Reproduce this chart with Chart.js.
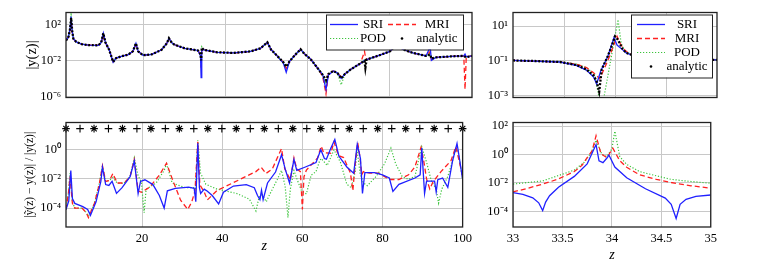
<!DOCTYPE html>
<html>
<head>
<meta charset="utf-8">
<script src="https://cdn.jsdelivr.net/npm/chart.js@4.4.1/dist/chart.umd.min.js"></script>
<style>
  html, body { margin: 0; padding: 0; background: #fff; }
  body { width: 759px; height: 269px; position: relative; overflow: hidden; }
  .panel { position: absolute; }
</style>
</head>
<body>
<div class="panel" style="left:22px;top:0;width:454px;height:110px"><canvas id="c1"></canvas></div>
<div class="panel" style="left:20px;top:110px;width:456px;height:159px"><canvas id="c2"></canvas></div>
<div class="panel" style="left:470px;top:0;width:251px;height:110px"><canvas id="c3"></canvas></div>
<div class="panel" style="left:470px;top:110px;width:251px;height:159px"><canvas id="c4"></canvas></div>
<script>
// --- data (values are log10 of the plotted quantity) ---

// top left: |y(z)| on z in [1, 100]
const tlZ = [1.0,1.6,2.0,2.25,2.5,2.8,3.5,4.8,6.5,8.9, 9.6,10.1,10.6,11.5,12.5,13.2,14.5,16.2,17.3,18.05,
  18.6,19.8,21.9,24.3,25.6,26.1,26.8,27.5,30.0,33.2, 33.8,33.95,34.1,34.6,37.9,41.9,46.0,48.4,50.1,51.0,
  52.5,54.0,54.7,55.5,57.0,58.2,59.2,60.6,62.6,63.6, 64.4,65.0,66.2,67.2,68.1,69.0,70.4,72.8,73.8,74.0,
  74.3,77.0,80.0,81.0,81.8,82.6,83.1,85.6,88.8,89.8, 90.1,91.2,95.0,98.0,98.3,98.6,100];
const tlAnalytic = [0.2,0.6,1.5,2.7,1.3,0.4,0.05,-0.2,-0.3,-0.33, 0.0,1.0,0.0,-0.8,-2.15,-1.75,-1.55,-1.35,-1.0,-0.1,
  -1.0,-1.43,-1.33,-0.83,-0.1,0.45,-0.05,-0.27,-0.67,-0.9, -1.3,-2.0,-0.6,-0.83,-1.1,-1.17,-1.0,-0.67,0.0,-0.8,
  -1.5,-2.2,-2.7,-2.1,-1.33,-0.77,-1.3,-1.83,-3.0,-3.6, -4.2,-3.5,-3.17,-3.4,-4.0,-3.5,-3.0,-2.33,-2.05,-2.83,
  -1.9,-1.5,-1.0,-0.5,0.4,-0.4,-0.77,-1.17,-1.5,-1.35, -1.8,-1.67,-1.55,-1.5,-1.6,-1.65,-1.5];
const tlSRI = [0.2,0.6,1.5,2.85,1.3,0.4,0.05,-0.2,-0.3,-0.33, 0.0,1.0,0.0,-0.8,-2.2,-1.75,-1.55,-1.35,-1.0,-0.1,
  -1.0,-1.43,-1.33,-0.83,-0.1,0.45,-0.05,-0.27,-0.67,-0.9, -1.5,-3.9,-0.8,-0.83,-1.1,-1.17,-1.0,-0.67,0.0,-0.8,
  -1.5,-2.3,-3.3,-2.1,-1.33,-0.77,-1.3,-1.83,-3.0,-3.6, -5.2,-3.6,-3.17,-3.4,-4.0,-3.5,-3.0,-2.33,-2.0,-1.95,
  -1.9,-1.5,-1.0,-0.5,0.4,-0.4,-0.77,-1.17,-1.5,-0.5, -2.0,-1.67,-1.55,-1.5,-1.3,-1.6,-1.5];
const tlMRI = [0.2,0.6,1.4,2.5,1.2,0.4,0.05,-0.2,-0.3,-0.33, 0.0,0.8,0.0,-0.8,-2.15,-1.75,-1.55,-1.35,-1.0,-0.3,
  -1.0,-1.43,-1.33,-0.83,-0.1,0.4,-0.05,-0.27,-0.67,-0.9, -1.4,-2.8,-0.7,-0.83,-1.1,-1.17,-1.0,-0.67,0.0,-0.8,
  -1.5,-2.2,-2.9,-2.1,-1.33,-0.77,-1.3,-1.83,-3.0,-3.8, -5.7,-3.4,-3.17,-3.4,-3.8,-3.5,-3.0,-2.33,-1.0,-1.6,
  -1.9,-1.5,-1.0,-0.5,0.4,-0.4,-0.77,-1.17,-1.5,-1.0, -1.9,-1.67,-1.55,-1.5,-5.2,-1.6,-1.5];
const tlPOD = [0.2,0.6,1.6,3.25,1.4,0.4,0.05,-0.2,-0.3,-0.33, 0.0,0.9,0.0,-0.8,-2.15,-1.75,-1.55,-1.35,-1.0,-0.2,
  -1.0,-1.43,-1.33,-0.83,-0.1,0.45,-0.05,-0.27,-0.67,-0.9, -1.3,-2.5,-0.5,-0.83,-1.1,-1.17,-1.0,-0.67,0.0,-0.8,
  -1.5,-2.2,-2.8,-2.1,-1.33,-0.77,-1.3,-1.83,-3.0,-3.6, -4.6,-3.5,-3.17,-3.4,-4.7,-3.5,-3.0,-2.33,-1.9,-2.0,
  -1.9,-1.5,-1.0,-0.5,0.4,-0.4,-0.77,-1.17,-1.5,-1.2, -1.8,-1.67,-1.55,-1.5,-1.5,-1.6,-1.5];

// bottom left: relative error
const blSriZ = [1.0,1.7,2.2,2.6,3.2,5.2,6.4,7.1,8.5,9.7, 10.1,10.9,11.7,12.5,13.6,15.0,17.0,18.05,19.0,19.6,
  20.7,22.7,24.3,25.5,26.3,28.3,31.6,33.0,33.4,33.9, 34.3,34.6,35.5,36.3,37.5,39.1,40.3,42.8,46.0,48.0,
  48.8,49.4,49.8,50.2,51.3,53.3,54.8,55.7,56.8,57.9, 58.6,60.6,63.4,64.6,65.5,66.0,67.1,68.1,69.1,71.1,
  72.8,73.7,74.5,75.0,75.6,78.0,80.0,81.7,82.6,84.1, 88.1,89.4,89.8,90.5,91.0,93.0,93.4,93.8,95.0,96.3,
  97.5,98.6,99.2,100];
const blSri = [-4.1,-3.5,-1.42,-3.35,-3.68,-3.9,-4.1,-4.5,-3.57,-2.17, -1.2,-2.39,-2.45,-2.17,-2.99,-2.6,-1.85,-0.77,-3.0,-2.17,
  -2.06,-2.39,-3.14,-4.0,-2.82,-2.65,-2.56,-2.65,-3.57,0.45, -2.6,-3.0,-2.7,-2.85,-3.14,-3.72,-2.92,-2.49,-2.39,-2.6,
  -3.14,-3.42,-2.77,-3.42,-2.28,-1.53,-0.34,-1.31,-2.28,-0.67, -1.42,-1.2,-0.88,0.0,-0.6,-0.65,0.1,0.71,-0.43,-1.18,
  -1.61,0.37,-0.6,-3.0,-1.57,-1.57,-1.72,-1.94,-2.86,-2.37, -1.94,-1.72,0.11,-3.0,-2.15,-2.15,-2.9,-2.05,-1.94,-2.58,
  -0.75,0.43,-0.6,-2.04];
const blMriZ = [1.0,1.6,2.0,2.6,3.2,5.0,6.05,6.6,8.1,9.3, 10.1,10.9,11.9,12.7,13.8,15.5,17.0,18.05,19.0,19.8,
  21.9,24.3,26.1,27.6,29.6,31.4,32.4,33.2,33.9,34.4, 35.5,36.3,38.7,48.4,49.7,50.9,52.5,54.8,55.6,57.0,
  57.9,58.6,59.5,60.0,60.4,61.0,63.8,64.7,65.3,67.1, 67.9,69.0,70.3,72.0,72.6,73.0,73.8,74.4,74.8,75.2,
  76.8,79.0,81.7,84.1,86.5,88.1,89.6,90.2,91.0,91.8, 92.6,94.6,97.1,98.3,99.5,100];
const blMri = [-4.1,-3.0,-1.85,-3.68,-4.0,-4.0,-4.32,-4.65,-3.68,-2.39, -1.1,-2.17,-2.1,-1.63,-2.28,-2.28,-1.85,-0.67,-2.82,-2.92,
  -2.56,-1.74,-0.92,-2.06,-3.46,-4.1,-3.57,-2.82,0.55,-2.4, -2.9,-3.44,-2.8,-1.5,-1.2,-1.63,-1.31,0.08,-1.31,-2.06,
  -0.56,-1.31,-1.5,-4.1,-1.85,-1.4,-0.56,0.24,-0.2,-0.24, 0.54,-0.4,-0.54,-1.6,-2.8,-1.5,0.5,-0.54,-1.72,-1.5,
  -1.61,-1.6,-2.04,-2.04,-1.72,-1.18,0.15,-0.6,-2.0,-2.69, -2.2,-1.5,-0.75,0.21,-1.2,-1.85];
const blPodZ = [1.0,1.6,2.0,2.6,3.2,5.0,6.05,6.6,8.1,9.3, 10.1,10.9,12.0,12.7,13.8,15.5,17.0,18.05,19.0,19.8,
  20.5,21.0,23.5,25.5,26.1,27.5,30.8,32.8,33.3,33.9, 34.6,35.9,38.7,43.6,46.8,48.4,49.2,50.0,51.0,51.6,
  53.7,54.8,55.7,56.4,57.0,57.9,58.6,59.8,61.0,62.2, 63.4,64.3,64.7,66.2,67.9,69.5,71.1,72.2,73.2,73.6,
  74.4,75.2,76.2,78.4,80.5,82.1,83.3,84.9,86.5,88.1, 89.8,91.0,92.2,93.4,94.0,94.8,96.3,97.5,98.6,99.3,
  100];
const blPod = [-4.1,-3.0,-1.6,-3.6,-4.0,-4.0,-4.3,-4.55,-3.68,-2.3, -1.15,-2.2,-2.05,-1.9,-2.3,-2.3,-1.8,-0.55,-1.8,-2.2,
  -4.32,-2.71,-2.28,-1.42,-0.97,-2.28,-2.6,-2.6,-2.7,0.65, -1.61,-2.37,-2.7,-3.0,-3.4,-4.2,-3.25,-3.1,-3.57,-3.2,
  -2.06,-1.42,-2.5,-4.65,-2.7,-1.42,-1.98,-2.82,-3.03,-1.74, -1.5,-0.77,-0.6,-1.08,0.0,-0.86,-2.37,-2.6,-1.5,0.1,
  -1.6,-2.26,-2.47,-1.83,-0.97,0.11,-0.97,-1.83,-2.04,-1.83, 0.21,-0.86,-2.15,-2.69,-3.66,-2.7,-1.83,-0.75,0.32,-0.8,
  -2.04];
// sample points shown along the top of the error panel
const starZ = [1,8,15.1,22.2,29.3,36.4,43.5,50.5,57.6,64.6,71.7,78.8,85.8,92.9,100];
const crossZ = [4.5,11.6,18.7,25.8,32.9,39.9,47,54,61.1,68.2,75.2,82.3,89.3,96.4];
const sampleLevel = 1.45;

// top right: zoom of |y(z)| on [33, 35]
const trAnaZ = [33.0,33.2,33.46,33.62,33.72,33.79,33.82,33.845,33.87,33.93,33.97,34.0,34.03,34.07,34.11,34.2,34.5,35.0];
const trAna = [-0.99,-1.02,-1.08,-1.25,-1.51,-1.86,-2.2,-2.8,-1.5,-0.73,-0.12,0.4,0.2,-0.29,-0.55,-0.75,-0.9,-0.96];
const trSriZ = [33.0,33.46,33.62,33.72,33.79,33.82,33.86,33.93,33.99,34.02,34.07,34.11,34.2,34.5,35.0];
const trSri = [-0.99,-1.08,-1.27,-1.55,-1.95,-2.35,-1.6,-0.75,0.33,-0.1,-0.35,-0.55,-0.75,-0.9,-0.96];
const trMriZ = [33.0,33.46,33.62,33.72,33.79,33.85,33.9,33.95,34.02,34.05,34.09,34.13,34.2,34.5,35.0];
const trMri = [-0.99,-1.08,-1.2,-1.4,-1.7,-2.04,-1.4,-0.7,0.41,0.0,-0.35,-0.55,-0.7,-0.9,-0.96];
const trPodZ = [33.0,33.46,33.62,33.72,33.8,33.855,33.88,34.03,34.06,34.1,34.2,34.5,35.0];
const trPod = [-0.99,-1.06,-1.2,-1.4,-1.8,-3.5,-3.5,1.37,0.0,-0.5,-0.7,-0.9,-0.96];

// bottom right: relative error on [33, 35]
const brSriZ = [33.0,33.1,33.2,33.26,33.3,33.33,33.37,33.46,33.62,33.75, 33.84,33.87,33.91,33.95,33.97,34.03,34.15,34.34,34.54,34.6,
  34.65,34.69,34.75,34.85,35.0];
const brSri = [-2.68,-2.8,-3.05,-3.4,-3.95,-3.35,-2.9,-2.3,-1.54,-0.66, 0.7,-0.44,-0.57,-0.25,-0.04,-0.88,-1.64,-2.41,-3.07,-3.5,
  -4.5,-3.5,-3.15,-2.95,-2.85];
const brMriZ = [33.0,33.15,33.3,33.45,33.62,33.7,33.75,33.8,33.84,33.89,33.95,34.01,34.08,34.15,34.28,34.45,34.6,34.8,35.0];
const brMri = [-2.63,-2.38,-2.08,-1.75,-1.2,-0.75,-0.22,0.25,1.32,0.05,-0.22,0.44,-0.44,-0.9,-1.43,-1.75,-1.97,-2.2,-2.37];
const brPodZ = [33.0,33.3,33.62,33.72,33.79,33.84,33.9,33.95,34.0,34.03,34.08,34.15,34.28,34.45,34.6,34.8,35.0];
const brPod = [-2.08,-1.86,-1.1,-0.55,0.11,1.0,0.0,-0.15,0.4,1.64,-0.15,-0.7,-1.2,-1.5,-1.75,-1.9,-2.02];

// axis ticks
const leftXTicks = [20, 40, 60, 80, 100];
const leftXLabels = ['20', '40', '60', '80', '100'];
const rightXTicks = [33, 33.5, 34, 34.5, 35];
const rightXLabels = ['33', '33.5', '34', '34.5', '35'];
const tlYTicks = [1e2, 1e-2, 1e-6];
const tlYLabels = ['10²', '10⁻²', '10⁻⁶'];
const blYTicks = [1, 1e-2, 1e-4];
const blYLabels = ['10⁰', '10⁻²', '10⁻⁴'];
const trYTicks = [1e1, 1e-1, 1e-3];
const trYLabels = ['10¹', '10⁻¹', '10⁻³'];
const brYTicks = [1e2, 1, 1e-2, 1e-4];
const brYLabels = ['10²', '10⁰', '10⁻²', '10⁻⁴'];

// --- styling ---
const FONT = "'Liberation Serif', 'Times New Roman', serif";
const TICK_SIZE = 12.5;
const styles = {
  SRI: { borderColor: '#2020ff', borderWidth: 1.3 },
  MRI: { borderColor: '#ff2020', borderWidth: 1.3, borderDash: [5, 3] },
  POD: { borderColor: '#3cc43c', borderWidth: 1.2, borderDash: [1.2, 1.8] },
  analytic: { borderColor: '#000', borderWidth: 2.3, borderDash: [2, 1.6], legendDot: true }
};

function pts(zs, es) {
  return zs.map((z, i) => ({ x: z, y: Math.pow(10, es[i]) }));
}

function line(label, zs, es) {
  return Object.assign({ label: label, data: pts(zs, es), pointRadius: 0, tension: 0, fill: false }, styles[label]);
}

function marks(zs, style) {
  return {
    label: '', data: zs.map(z => ({ x: z, y: Math.pow(10, sampleLevel) })),
    showLine: false, pointStyle: style, pointRadius: 3.8, borderColor: '#000',
    backgroundColor: '#000', borderWidth: 1.1, clip: false
  };
}

// legend boxes drawn inside the plot area (offsets from the plot's top-right)
const legendLayouts = {
  c1: { right: 9, top: 2, w: 137, h: 35, cols: 2, sampleX: [4, 62], sampleW: 28, textX: [47, 111], rowY: [10, 24] },
  c3: { right: 5, top: 2, w: 81, h: 63, cols: 1, sampleX: [6], sampleW: 28, textX: [56], rowY: [10, 24, 38, 52] }
};

const decor = {
  id: 'decor',
  afterDraw(chart) {
    const ctx = chart.ctx, a = chart.chartArea;
    ctx.save();
    ctx.strokeStyle = '#222';
    ctx.lineWidth = 1.3;
    ctx.strokeRect(a.left, a.top, a.right - a.left, a.bottom - a.top);
    const lg = legendLayouts[chart.canvas.id];
    if (lg) {
      const bx = a.right - lg.right - lg.w, by = a.top + lg.top;
      ctx.fillStyle = '#fff';
      ctx.fillRect(bx, by, lg.w, lg.h);
      ctx.lineWidth = 1;
      ctx.strokeRect(bx + 0.5, by + 0.5, lg.w, lg.h);
      chart.data.datasets.filter(d => d.label).forEach((d, i) => {
        const col = i % lg.cols, row = Math.floor(i / lg.cols);
        const sx = bx + lg.sampleX[col], y = by + lg.rowY[row];
        if (d.legendDot) {
          ctx.fillStyle = '#000';
          ctx.beginPath();
          ctx.arc(sx + lg.sampleW / 2, y, 1.3, 0, 2 * Math.PI);
          ctx.fill();
        } else {
          ctx.strokeStyle = d.borderColor;
          ctx.lineWidth = d.borderWidth;
          ctx.setLineDash(d.borderDash || []);
          ctx.beginPath();
          ctx.moveTo(sx, y);
          ctx.lineTo(sx + lg.sampleW, y);
          ctx.stroke();
          ctx.setLineDash([]);
        }
        ctx.fillStyle = '#000';
        ctx.font = '13px ' + FONT;
        ctx.textAlign = 'center';
        ctx.textBaseline = 'middle';
        ctx.fillText(d.label, bx + lg.textX[col], y);
      });
    }
    ctx.restore();
  }
};

function xAxis(min, max, ticks, labels, showLabels, height) {
  return {
    type: 'linear', min: min, max: max,
    afterBuildTicks: s => { s.ticks = ticks.map(v => ({ value: v })); },
    afterFit: s => { s.height = height; },
    grid: { color: '#c8c8c8', drawTicks: false },
    border: { display: false },
    ticks: {
      display: showLabels, padding: 4, maxRotation: 0, autoSkip: false, color: '#000',
      font: { family: FONT, size: TICK_SIZE }, callback: (v, i) => labels[i]
    },
    title: { display: showLabels, text: 'z', color: '#000', padding: 0, font: { family: FONT, size: 14, style: 'italic' } }
  };
}

function yAxis(minExp, maxExp, ticks, labels, width, title, titleSize, titlePad) {
  return {
    type: 'logarithmic', min: Math.pow(10, minExp), max: Math.pow(10, maxExp),
    afterBuildTicks: s => { s.ticks = ticks.map(v => ({ value: v })); },
    afterFit: s => { s.width = width; },
    grid: { color: '#c8c8c8', drawTicks: false },
    border: { display: false },
    ticks: { padding: 5, color: '#000', font: { family: FONT, size: TICK_SIZE }, callback: (v, i) => labels[i] },
    title: title
      ? { display: true, text: title, color: '#000', padding: { top: titlePad, bottom: 0 }, font: { family: FONT, size: titleSize } }
      : { display: false }
  };
}

function build(id, datasets, padding, x, y) {
  new Chart(document.getElementById(id), {
    type: 'line',
    data: { datasets: datasets },
    options: {
      responsive: true, maintainAspectRatio: false, animation: false,
      layout: { padding: padding },
      plugins: { legend: { display: false }, tooltip: { enabled: false } },
      scales: { x: x, y: y }
    },
    plugins: [decor]
  });
}

// analytic drawn on top (order 0), legend order SRI, MRI, POD, analytic
build('c1',
  [line('SRI', tlZ, tlSRI), line('MRI', tlZ, tlMRI), line('POD', tlZ, tlPOD), line('analytic', tlZ, tlAnalytic)]
    .map((d, i) => Object.assign(d, { order: d.label === 'analytic' ? 0 : i + 1 })),
  { left: 0, top: 7, right: 4, bottom: 9 },
  xAxis(1, 100, leftXTicks.slice(0, 4), leftXLabels, false, 0),
  yAxis(-6.1, 3.3, tlYTicks, tlYLabels, 44, '|y(z)|', 14.5, 1));

build('c2',
  [line('SRI', blSriZ, blSri), line('MRI', blMriZ, blMri), line('POD', blPodZ, blPod), marks(starZ, 'star'), marks(crossZ, 'cross')],
  { left: 0, top: 6, right: 4, bottom: 14 },
  xAxis(1, 100, leftXTicks, leftXLabels, true, 28),
  yAxis(-5.3, 1.87, blYTicks, blYLabels, 46, '|ỹ(z) − y(z)| / |y(z)|', 11.5, 3));

build('c3',
  [line('SRI', trSriZ, trSri), line('MRI', trMriZ, trMri), line('POD', trPodZ, trPod), line('analytic', trAnaZ, trAna)]
    .map((d, i) => Object.assign(d, { order: d.label === 'analytic' ? 0 : i + 1 })),
  { left: 0, top: 7, right: 4, bottom: 9 },
  xAxis(33, 35, rightXTicks.slice(1, 4), rightXLabels, false, 0),
  yAxis(-3.13, 1.78, trYTicks, trYLabels, 43, null));

build('c4',
  [line('SRI', brSriZ, brSri), line('MRI', brMriZ, brMri), line('POD', brPodZ, brPod)],
  { left: 0, top: 6, right: 4, bottom: 5 },
  xAxis(33, 35, rightXTicks, rightXLabels, true, 37),
  yAxis(-5.1, 2.25, brYTicks, brYLabels, 43, null));
</script>
</body>
</html>
